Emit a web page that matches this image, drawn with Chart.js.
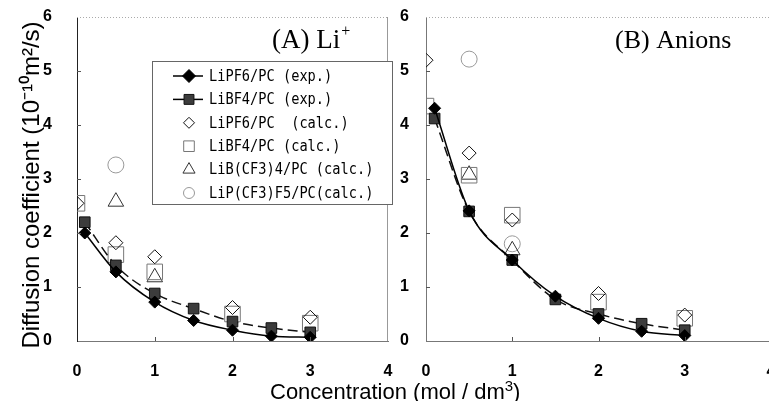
<!DOCTYPE html>
<html>
<head>
<meta charset="utf-8">
<script src="https://cdn.jsdelivr.net/npm/chart.js@4.4.1/dist/chart.umd.min.js"></script>
<style>
body{margin:0;background:#fff;overflow:hidden;width:769px;height:401px;position:relative}
#wrapA{position:absolute;left:0;top:0;width:400px;height:401px}
#wrapB{position:absolute;left:390px;top:0;width:395px;height:401px}
#xTitle{position:absolute;left:270px;top:379px;line-height:24px;white-space:nowrap;font:22px 'Liberation Sans',Arial,sans-serif;color:#000}
#xTitle sup{font-size:15px;line-height:0}
</style>
</head>
<body>
<div id="wrapA"><canvas id="chartA"></canvas></div>
<div id="wrapB"><canvas id="chartB"></canvas></div>
<div id="xTitle">Concentration (mol / dm<sup>3</sup>)</div>
<script>
// concentrations (mol/dm3)
const expConc = [0.1, 0.5, 1, 1.5, 2, 2.5, 3];
const calcConc = [0, 0.5, 1, 2, 3];
const bcf3Conc = [0.5, 1];
const pcf3ConcA = [0.5];
const pcf3ConcB = [0.5, 1];

// (A) Li+  diffusion coefficient (1e-10 m2/s)
const liPF6ExpA = [2.0, 1.28, 0.72, 0.38, 0.2, 0.09, 0.07];
const liBF4ExpA = [2.2, 1.4, 0.88, 0.6, 0.36, 0.24, 0.16];
const liPF6CalcA = [2.55, 1.82, 1.56, 0.62, 0.44];
const liBF4CalcA = [2.55, 1.6, 1.28, 0.5, 0.33];
const liBCF3CalcA = [2.58, 1.18];
const liPCF3CalcA = [3.26];

// (B) Anions
const liPF6ExpB = [4.31, 2.41, 1.5, 0.83, 0.42, 0.18, 0.1];
const liBF4ExpB = [4.12, 2.4, 1.5, 0.77, 0.5, 0.32, 0.2];
const liPF6CalcB = [5.2, 3.48, 2.24, 0.88, 0.48];
const liBF4CalcB = [4.35, 3.07, 2.33, 0.72, 0.42];
const liBCF3CalcB = [3.08, 1.68];
const liPCF3CalcB = [5.22, 1.8];

const labels = ['LiPF6/PC (exp.)', 'LiBF4/PC (exp.)', 'LiPF6/PC  (calc.)', 'LiBF4/PC (calc.)', 'LiB(CF3)4/PC (calc.)', 'LiP(CF3)F5/PC(calc.)'];
const xTickLabels = ['0', '1', '2', '3', '4'];
const yTickLabels = ['0', '1', '2', '3', '4', '5', '6'];
const yTitle = 'Diffusion coefficient (10\u207B\u00B9\u2070m\u00B2/s)';

function pts(xs, ys) {
    return xs.map((x, i) => ({x: x, y: ys[i]}));
}

function makeDatasets(pf6e, bf4e, pf6c, bf4c, bcf3, pcf3, pcf3x) {
    return [
        {label: labels[0], data: pts(expConc, pf6e), showLine: true, cubicInterpolationMode: 'monotone',
         borderColor: '#000', borderWidth: 1.5, pointStyle: 'rectRot', pointRadius: 6,
         pointBackgroundColor: '#000', pointBorderColor: '#000', pointBorderWidth: 1},
        {label: labels[1], data: pts(expConc, bf4e), showLine: true, cubicInterpolationMode: 'monotone',
         borderColor: '#111', borderWidth: 1.5, borderDash: [10, 5], pointStyle: 'rect', pointRadius: 7.5,
         pointBackgroundColor: '#3c3c3c', pointBorderColor: '#111', pointBorderWidth: 1},
        {label: labels[2], data: pts(calcConc, pf6c), showLine: false, pointStyle: 'rectRot', pointRadius: 7,
         pointBackgroundColor: 'rgba(255,255,255,0)', pointBorderColor: '#111', pointBorderWidth: 1},
        {label: labels[3], data: pts(calcConc, bf4c), showLine: false, pointStyle: 'rect', pointRadius: 11,
         pointBackgroundColor: 'rgba(255,255,255,0)', pointBorderColor: '#777', pointBorderWidth: 1},
        {label: labels[4], data: pts(bcf3Conc, bcf3), showLine: false, pointStyle: 'triangle', pointRadius: 9,
         pointBackgroundColor: 'rgba(255,255,255,0)', pointBorderColor: '#333', pointBorderWidth: 1},
        {label: labels[5], data: pts(pcf3x, pcf3), showLine: false, pointStyle: 'circle', pointRadius: 8,
         pointBackgroundColor: 'rgba(255,255,255,0)', pointBorderColor: '#999', pointBorderWidth: 1}
    ];
}

// frame: dotted top, light right edge, small inward ticks
const framePlugin = {
    id: 'frame',
    afterDraw(chart) {
        const ctx = chart.ctx, a = chart.chartArea;
        const xs = chart.scales.x, ys = chart.scales.y;
        ctx.save();
        ctx.strokeStyle = '#aaa';
        ctx.lineWidth = 1;
        ctx.setLineDash([1, 2]);
        ctx.beginPath();
        ctx.moveTo(a.left, a.top + 0.5);
        ctx.lineTo(a.right, a.top + 0.5);
        ctx.stroke();
        ctx.setLineDash([]);
        ctx.strokeStyle = '#999';
        ctx.beginPath();
        ctx.moveTo(a.right - 0.5, a.top);
        ctx.lineTo(a.right - 0.5, a.bottom);
        ctx.stroke();
        ctx.strokeStyle = '#555';
        ctx.beginPath();
        for (let v = 1; v <= 5; v++) {
            const y = Math.round(ys.getPixelForValue(v)) + 0.5;
            ctx.moveTo(a.left, y);
            ctx.lineTo(a.left + 4, y);
        }
        for (let v = 1; v <= 3; v++) {
            const x = Math.round(xs.getPixelForValue(v)) + 0.5;
            ctx.moveTo(x, a.bottom);
            ctx.lineTo(x, a.bottom - 4);
        }
        ctx.stroke();
        ctx.restore();
    }
};

function panelTitle(text, sup, x, y, size) {
    return {
        id: 'panelTitle',
        afterDraw(chart) {
            const ctx = chart.ctx;
            ctx.save();
            ctx.fillStyle = '#000';
            ctx.textBaseline = 'alphabetic';
            ctx.font = size + 'px "Liberation Serif", "Times New Roman", serif';
            ctx.fillText(text, x, y);
            if (sup) {
                const w = ctx.measureText(text).width;
                ctx.font = '16px "Liberation Serif", serif';
                ctx.fillText(sup, x + w + 1, y - 12);
            }
            ctx.restore();
        }
    };
}

// rotated y-axis title, centred a little below the plot middle as in the source
const yTitlePlugin = {
    id: 'yTitle',
    afterDraw(chart) {
        const ctx = chart.ctx;
        ctx.save();
        ctx.translate(39, 185);
        ctx.rotate(-Math.PI / 2);
        ctx.fillStyle = '#000';
        ctx.font = '24px "Liberation Sans", Arial, sans-serif';
        ctx.textAlign = 'center';
        ctx.textBaseline = 'alphabetic';
        ctx.fillText(yTitle, 0, 0);
        ctx.restore();
    }
};

function drawMark(ctx, style, x, y, r, fill, stroke) {
    ctx.beginPath();
    if (style === 'rectRot') {
        ctx.moveTo(x - r, y); ctx.lineTo(x, y - r); ctx.lineTo(x + r, y); ctx.lineTo(x, y + r); ctx.closePath();
    } else if (style === 'rect') {
        const s = r * Math.SQRT1_2;
        ctx.rect(x - s, y - s, 2 * s, 2 * s);
    } else if (style === 'triangle') {
        ctx.moveTo(x, y - r); ctx.lineTo(x + r * 0.866, y + r * 0.5); ctx.lineTo(x - r * 0.866, y + r * 0.5); ctx.closePath();
    } else {
        ctx.arc(x, y, r, 0, Math.PI * 2);
    }
    if (fill) { ctx.fillStyle = fill; ctx.fill(); }
    ctx.strokeStyle = stroke;
    ctx.lineWidth = 1;
    ctx.stroke();
}

const legendPlugin = {
    id: 'boxLegend',
    afterDraw(chart) {
        const ctx = chart.ctx;
        const box = {l: 152, t: 61, r: 392, b: 204};
        ctx.save();
        ctx.fillStyle = '#fff';
        ctx.fillRect(box.l, box.t, box.r - box.l, box.b - box.t);
        ctx.strokeStyle = '#666';
        ctx.lineWidth = 1;
        ctx.strokeRect(box.l + 0.5, box.t + 0.5, box.r - box.l, box.b - box.t);
        const sizes = [6.5, 7, 5.5, 7.5, 7, 5.5];
        chart.data.datasets.forEach((ds, i) => {
            const y = 76 + i * 23.4;
            if (ds.showLine) {
                ctx.strokeStyle = '#000';
                ctx.lineWidth = 1.5;
                ctx.beginPath();
                ctx.moveTo(173, y);
                ctx.lineTo(203, y);
                ctx.stroke();
            }
            const fill = ds.showLine ? ds.pointBackgroundColor : null;
            drawMark(ctx, ds.pointStyle, 189, y, sizes[i], fill, ds.pointBorderColor);
            ctx.save();
            ctx.translate(209, y + 1);
            ctx.scale(0.91, 1);
            ctx.fillStyle = '#000';
            ctx.font = '15px "DejaVu Sans Mono", "Liberation Mono", monospace';
            ctx.textBaseline = 'middle';
            ctx.fillText(ds.label, 0, 0);
            ctx.restore();
        });
        ctx.restore();
    }
};

function makeOptions(axisWidth, yBorder, tickLen, padRight) {
    const tickFont = {family: "'Liberation Sans Narrow', 'Liberation Sans', Arial", size: 16, weight: 'bold'};
    return {
        responsive: true,
        maintainAspectRatio: false,
        animation: false,
        layout: {padding: {top: 17, right: padRight, bottom: 0, left: 0}},
        plugins: {legend: {display: false}, tooltip: {enabled: false}},
        scales: {
            x: {
                type: 'linear', min: 0, max: 4,
                afterFit: s => { s.height = 60; },
                afterBuildTicks: s => { s.ticks = xTickLabels.map(v => ({value: +v})); },
                grid: {display: true, drawOnChartArea: false, drawTicks: true, tickLength: 21, tickColor: 'rgba(0,0,0,0)'},
                border: {display: true, color: '#777', width: 1},
                ticks: {padding: 0, color: '#000', font: tickFont}
            },
            y: {
                type: 'linear', min: 0, max: 6,
                afterFit: s => { s.width = axisWidth; },
                afterBuildTicks: s => { s.ticks = yTickLabels.map(v => ({value: +v})); },
                grid: {display: true, drawOnChartArea: false, drawTicks: true, tickLength: tickLen, tickColor: 'rgba(0,0,0,0)'},
                border: {display: true, color: yBorder, width: 1},
                ticks: {padding: 0, color: '#000', font: tickFont}
            }
        }
    };
}

new Chart(document.getElementById('chartA'), {
    type: 'scatter',
    data: {datasets: makeDatasets(liPF6ExpA, liBF4ExpA, liPF6CalcA, liBF4CalcA, liBCF3CalcA, liPCF3CalcA, pcf3ConcA)},
    options: makeOptions(77, '#222', 25, 9),
    plugins: [framePlugin, panelTitle('(A) Li', '+', 272, 48, 27), legendPlugin, yTitlePlugin]
});

new Chart(document.getElementById('chartB'), {
    type: 'scatter',
    data: {datasets: makeDatasets(liPF6ExpB, liBF4ExpB, liPF6CalcB, liBF4CalcB, liBCF3CalcB, liPCF3CalcB, pcf3ConcB)},
    options: makeOptions(36, '#777', 17, 14),
    plugins: [framePlugin, panelTitle('(B) Anions', '', 225, 48, 26)]
});
</script>
</body>
</html>
